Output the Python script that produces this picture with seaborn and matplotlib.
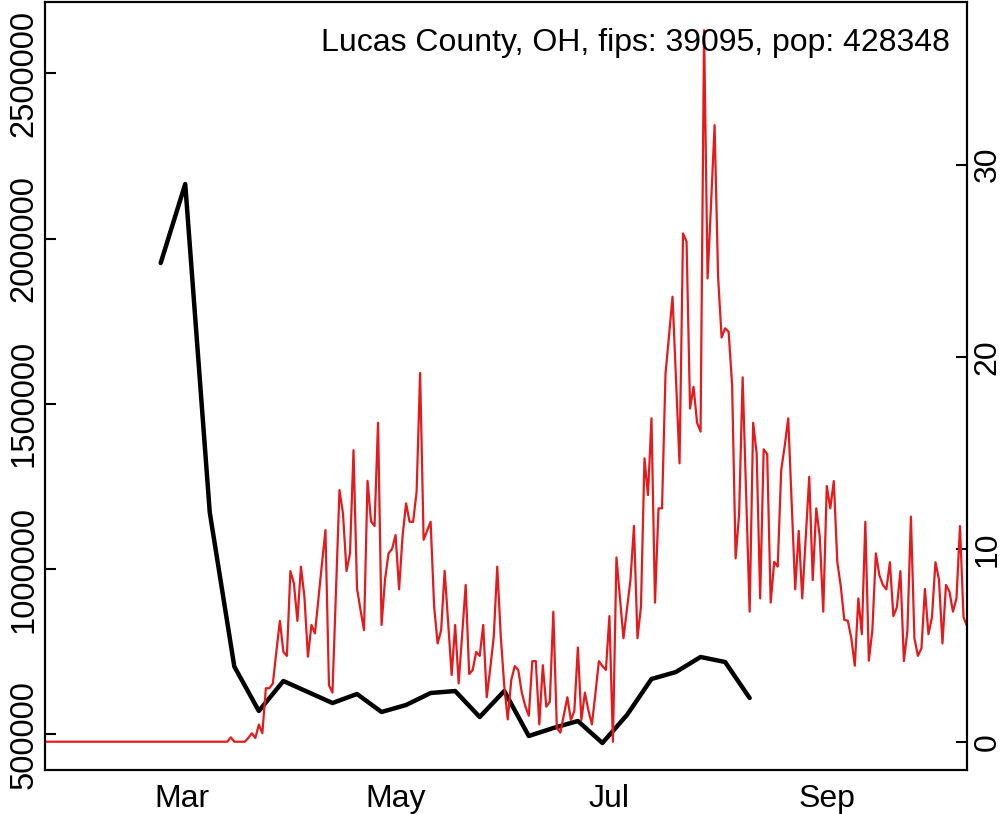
import numpy as np
import pandas as pd
import matplotlib
matplotlib.use("Agg")
import matplotlib.pyplot as plt
import seaborn as sns

sns.set_theme(style="white")
plt.rcParams["font.family"] = ["Liberation Sans", "DejaVu Sans"]

# ---------------- data ----------------
title = "Lucas County, OH, fips: 39095, pop: 428348"

red_start = "2020-01-22"   # daily series (right axis)
red_values = [
    0, 0, 0, 0, 0, 0, 0, 0, 0, 0,
    0, 0, 0, 0, 0, 0, 0, 0, 0, 0,
    0, 0, 0, 0, 0, 0, 0, 0, 0, 0,
    0, 0, 0, 0, 0, 0, 0, 0, 0, 0,
    0, 0, 0, 0, 0, 0, 0, 0, 0, 0,
    0, 0, 0,
    0.23, 0, 0, 0, 0, 0.2, 0.44, 0.19, 0.89, 0.44,
    2.78, 2.78, 3.03, 4.7, 6.28, 4.67, 4.46, 8.87, 8.23, 6.28,
    9.10, 7.53, 4.42, 6.07, 5.63, 7.45, 9.25, 11.0, 2.94, 2.55,
    7.85, 13.08, 11.87, 8.87, 9.79, 15.15, 7.97, 6.85, 5.80, 13.56,
    11.46, 11.21, 16.58, 6.07, 8.45, 9.79, 10.02, 10.74, 7.92, 10.7,
    12.39, 11.43, 11.43, 12.99, 19.17, 10.5, 10.96, 11.43, 7.02, 5.11,
    5.80, 8.89, 6.15, 3.47, 6.07, 3.03, 5.59, 8.15, 3.52, 3.73,
    4.67, 4.46, 6.07, 2.31, 3.8, 5.45, 9.10, 5.5, 2.9, 1.16,
    3.21, 3.93, 3.73, 2.55, 1.85, 1.35, 4.19, 4.19, 0.9, 3.98,
    1.82, 2.08, 6.76, 0.72, 0.47, 1.38, 2.31, 1.12, 1.61, 4.9,
    1.12, 2.55, 1.63, 0.9, 2.5, 4.19, 3.93, 3.73, 6.53, 0.0,
    9.58, 7.48, 5.38, 6.90, 8.40, 11.22, 5.38, 7.02, 14.73, 12.82,
    16.81, 7.23, 12.13, 12.13, 19.14, 21.1, 23.13, 18.8, 14.47, 26.42,
    25.99, 17.32, 18.45, 16.58, 16.12, 36.98, 24.08, 28.0, 32.05, 24.17,
    21.01, 21.49, 21.31, 18.54, 9.53, 11.86, 18.94, 12.83, 6.76, 16.58,
    14.99, 7.45, 15.2, 14.95, 7.23, 9.35, 9.10, 14.12, 15.37, 16.81,
    12.4, 7.92, 10.96, 7.45, 10.66, 13.77, 8.40, 12.13, 10.66, 6.76,
    13.29, 12.13, 13.55, 9.35, 8.06, 6.33, 6.29, 5.38, 3.95, 7.45,
    5.59, 11.43, 4.21, 5.80, 9.79, 8.66, 8.15, 7.92, 9.33, 6.53,
    6.99, 8.87, 4.19, 5.77, 11.70, 5.38, 4.46, 4.85, 7.94, 5.59,
    6.46, 9.33, 8.44, 5.11, 8.15, 7.80, 6.76, 7.45, 11.21, 6.49,
    6.0,
]

black_start = "2020-02-24"   # weekly series (left axis)
black_values = [
    1926400, 2165500, 1171300, 705200, 570500, 661300, 628000, 594700,
    622000, 567500, 588700, 625000, 631000, 552400, 631000, 494900,
    519000, 540300, 473700, 558400, 667400, 688600, 734000, 718800,
    609900,
]

left_ticks = [500000, 1000000, 1500000, 2000000, 2500000]
right_ticks = [0, 10, 20, 30]
month_ticks = ["2020-03-01", "2020-05-01", "2020-07-01", "2020-09-01"]
month_labels = ["Mar", "May", "Jul", "Sep"]

red_df = pd.DataFrame({
    "date": pd.date_range(red_start, periods=len(red_values), freq="D"),
    "value": red_values,
})
black_df = pd.DataFrame({
    "date": pd.date_range(black_start, periods=len(black_values), freq="7D"),
    "value": black_values,
})

# ---------------- figure ----------------
W, H = 1006, 814
fig = plt.figure(figsize=(W / 100, H / 100), dpi=100)
ax = fig.add_axes([45 / W, 44 / H, 922 / W, 768 / H])

sns.lineplot(data=black_df, x="date", y="value", ax=ax,
             color="black", linewidth=3.2)
ax2 = ax.twinx()
sns.lineplot(data=red_df, x="date", y="value", ax=ax2,
             color="#e41a1c", linewidth=1.6)

ax.set_xlim(pd.Timestamp("2020-01-22"), pd.Timestamp("2020-10-11"))
ax.set_ylim(391950, 2716400)
ax2.set_ylim(-1.47, 38.45)

ax.set_xticks(pd.to_datetime(month_ticks))
ax.set_xticklabels(month_labels)
ax.set_yticks(left_ticks)
ax.set_yticklabels([str(t) for t in left_ticks], rotation=90, va="center")
ax2.set_yticks(right_ticks)
ax2.set_yticklabels([str(t) for t in right_ticks], rotation=90, va="center")

for a in (ax, ax2):
    a.set_xlabel("")
    a.set_ylabel("")
    a.grid(False)
    for s in a.spines.values():
        s.set_color("black")
        s.set_linewidth(1.5)

ax.tick_params(axis="x", direction="in", length=8, width=1.5,
               labelsize=23, pad=10, colors="black")
ax.tick_params(axis="y", direction="in", length=8, width=1.5,
               labelsize=23.5, pad=4, colors="black")
ax2.tick_params(axis="y", direction="in", length=8, width=1.5,
                labelsize=23, pad=4, colors="black")

ax2.text(0.9816, 0.947, title, transform=ax.transAxes,
         ha="right", va="center", fontsize=23, color="black")

fig.savefig("out.png", dpi=100)
